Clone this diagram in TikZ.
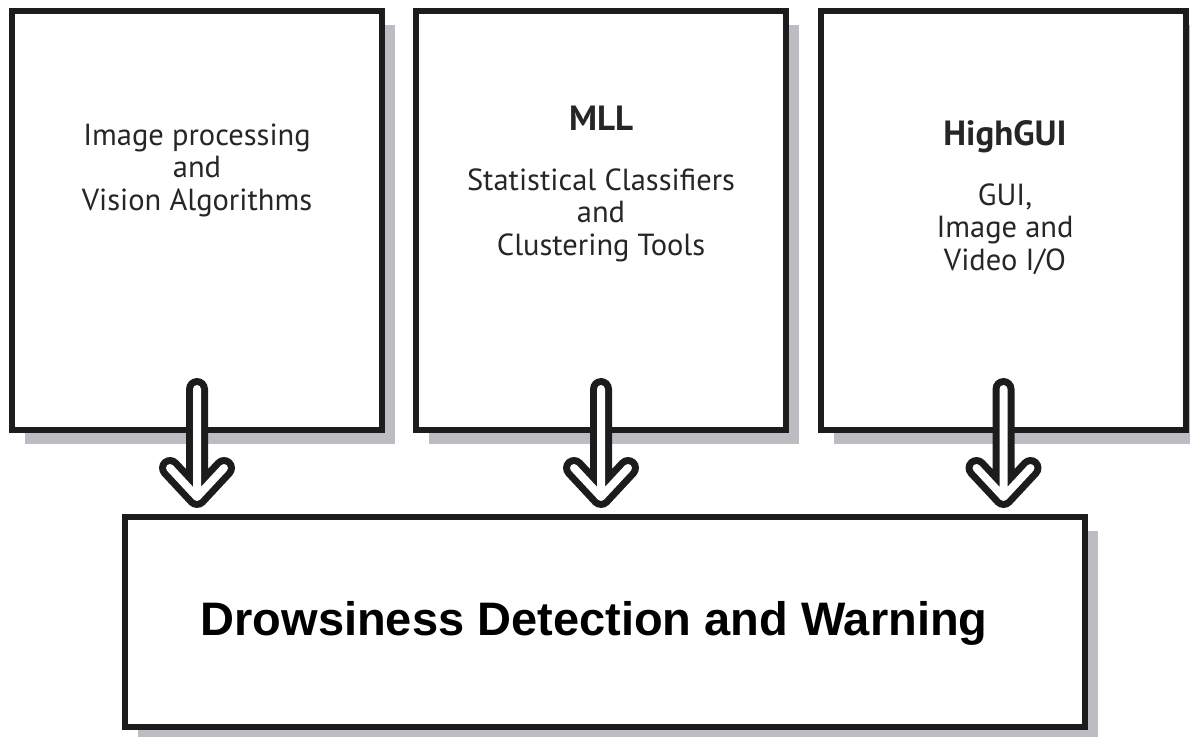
\documentclass[tikz,border=0pt]{standalone}
\usepackage{fontspec}
\setmainfont{PT Sans}
\newfontfamily\arialfont{Liberation Sans}
\usetikzlibrary{shadows}

\definecolor{shadowgray}{RGB}{188,189,194}
\definecolor{boxline}{RGB}{28,28,28}

\begin{document}
\begin{tikzpicture}[x=1pt, y=1pt,
        module/.style={draw=boxline, line width=6pt, fill=white, inner sep=0pt,
            drop shadow={shadow xshift=13pt, shadow yshift=-14pt, fill=shadowgray, opacity=1}},
        bodytext/.style={align=center, inner sep=0pt, text=black!85,
            font=\fontsize{30.5pt}{32.5pt}\selectfont},
        headtext/.style={inner sep=0pt, text=black!85,
            font=\fontsize{35pt}{40pt}\selectfont\bfseries},
        titletext/.style={inner sep=0pt, font=\arialfont\fontsize{47pt}{54pt}\selectfont\bfseries},
        hollowarrow/.style={draw=boxline, double=white, double distance=8pt, line width=7pt,
            line cap=round, line join=round}
    ]
    \useasboundingbox (0,0) rectangle (1190,736);
    % three library boxes
    \node[module, minimum width=370pt, minimum height=419pt] (img) at (197,515.5) {};
    \node[module, minimum width=370pt, minimum height=419pt] (mll) at (601,515.5) {};
    \node[module, minimum width=365pt, minimum height=419pt] (gui) at (1003.5,515.5) {};
    % application box
    \node[module, minimum width=960pt, minimum height=210pt] (dds) at (605,114) {};

    \node[bodytext, anchor=north] (imgtxt) at (197,612.5) {Image processing\\and\\Vision Algorithms};
    \node[headtext, anchor=north] (mllhead) at (601,630.5) {MLL};
    \node[bodytext, anchor=north] (mlltxt) at (601,567.5) {Statistical Classifiers\\and\\Clustering Tools};
    \node[headtext, anchor=north] (guihead) at (1005,615.5) {HighGUI};
    \node[bodytext, anchor=north] (guitxt) at (1005,552.5) {GUI,\\Image and\\Video I/O};
    \node[titletext, anchor=base] (ddstxt) at (594,101) {Drowsiness Detection and Warning};

    % hollow arrows down to the application
    \foreach \b in {img,mll,gui} {
        \coordinate (\b top) at ([yshift=44pt]\b.south);
        \coordinate (\b tip) at ([yshift=17pt]\b.south |- dds.north);
        \draw[hollowarrow] (\b top) -- (\b tip)
            ([shift={(-27pt,29pt)}]\b tip) -- (\b tip) -- ([shift={(27pt,29pt)}]\b tip);
    }
\end{tikzpicture}
\end{document}
